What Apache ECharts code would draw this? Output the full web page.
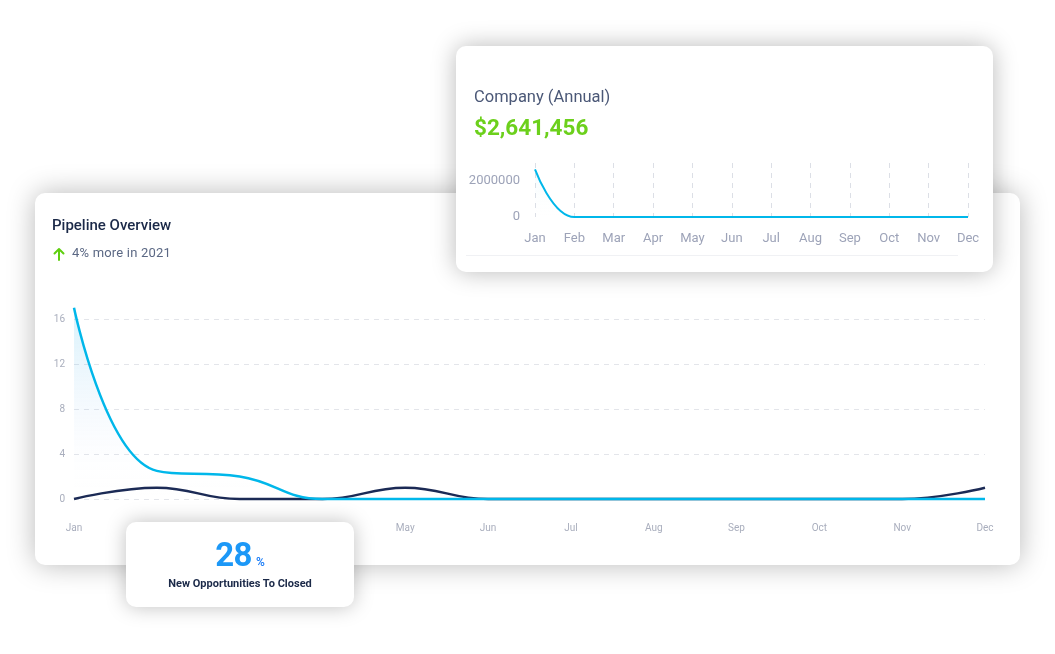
<!DOCTYPE html>
<html><head><meta charset="utf-8">
<script src="https://cdn.jsdelivr.net/npm/echarts@6/dist/echarts.min.js"></script>
<style>
html,body{margin:0;padding:0;background:#fff;width:1055px;height:654px;overflow:hidden;font-family:Roboto,"Noto Sans",sans-serif;}
.card{position:absolute;background:#fff;border-radius:10px;}
#main{left:35px;top:193px;width:985px;height:372px;box-shadow:0 0 28px rgba(0,0,0,0.28);z-index:1;}
#top{left:456px;top:46px;width:537px;height:226px;box-shadow:0 0 24px rgba(0,0,0,0.28);z-index:2;}
#small{left:126px;top:522px;width:228px;height:85px;box-shadow:0 0 20px rgba(0,0,0,0.25);z-index:3;text-align:center;}
.abs{position:absolute;}
</style></head><body>
<div id="main" class="card">
  <div id="mainChart" class="abs" style="left:0;top:0;width:985px;height:372px;"></div>
  <div class="abs" style="left:17px;top:23px;font-size:15px;font-weight:500;color:#1b2948;">Pipeline Overview</div>
  <svg class="abs" style="left:17px;top:54px;" width="14" height="14" viewBox="0 0 14 14"><path d="M7 13 V2 M2.5 6.5 L7 2 L11.5 6.5" stroke="#5fcf10" stroke-width="2" fill="none" stroke-linecap="round" stroke-linejoin="round"/></svg>
  <div class="abs" style="left:37px;top:52px;font-size:13px;color:#5b6884;letter-spacing:0.2px;">4% more in 2021</div>
</div>
<div id="top" class="card">
  <div id="topChart" class="abs" style="left:0;top:0;width:537px;height:226px;"></div>
  <div class="abs" style="left:18px;top:41px;font-size:16.5px;color:#4b5877;">Company (Annual)</div>
  <div class="abs" style="left:18px;top:68px;font-size:22.5px;font-weight:700;color:#6cd01c;">$2,641,456</div>
  <div class="abs" style="left:10px;top:209px;width:492px;height:1px;background:#f0f1f4;"></div>
</div>
<div id="small" class="card">
  <div class="abs" style="left:0;top:13px;width:228px;text-align:center;">
    <span style="font-size:33px;font-weight:700;color:#1c98f7;letter-spacing:-0.5px;">28</span><span style="font-size:12px;font-weight:600;color:#1c7df7;margin-left:4px;">%</span>
  </div>
  <div class="abs" style="left:0;top:55px;width:228px;text-align:center;font-size:11px;font-weight:700;color:#1b2948;">New Opportunities To Closed</div>
</div>
<script>
const months = ['Jan','Feb','Mar','Apr','May','Jun','Jul','Aug','Sep','Oct','Nov','Dec'];
const pipelineCyan = [17, 2.5, 2, 0, 0, 0, 0, 0, 0, 0, 0, 0];
const pipelineNavy = [0, 1, 0, 0, 1, 0, 0, 0, 0, 0, 0, 1];
const mainYTicks = [0, 4, 8, 12, 16];
const companyAnnual = [2641456, 0, 0, 0, 0, 0, 0, 0, 0, 0, 0, 0];
const companyYTicks = [0, 2000000];

const CYAN = '#00b7ea', NAVY = '#1b2a55';

const mainChart = echarts.init(document.getElementById('mainChart'));
mainChart.setOption({
  animation:false,
  grid:{left:39,right:35,top:126,bottom:66},
  xAxis:{type:'category',data:months,boundaryGap:false,
    axisLine:{show:false},axisTick:{show:false},
    axisLabel:{color:'#a9aebd',fontSize:10,margin:24,fontFamily:'Roboto'},
    splitLine:{show:false}},
  yAxis:{type:'value',min:0,max:mainYTicks[mainYTicks.length-1],interval:4,
    axisLine:{show:false},axisTick:{show:false},
    axisLabel:{color:'#a9aebd',fontSize:10,margin:9,fontFamily:'Roboto'},
    splitLine:{lineStyle:{color:'#e3e5ea',type:[5,5],width:1}}},
  series:[
    {type:'line',data:pipelineNavy,smooth:0.45,symbol:'none',clip:false,
      lineStyle:{color:NAVY,width:2.5},z:2},
    {type:'line',data:pipelineCyan,smooth:0.45,symbol:'none',clip:false,
      lineStyle:{color:CYAN,width:2.5},z:3,
      areaStyle:{color:new echarts.graphic.LinearGradient(0,0,0,1,[
        {offset:0,color:'rgba(0,170,230,0.22)'},
        {offset:0.7,color:'rgba(120,170,240,0.04)'},
        {offset:1,color:'rgba(255,255,255,0)'}])}}
  ]
});

const topChart = echarts.init(document.getElementById('topChart'));
topChart.setOption({
  animation:false,
  grid:{left:79,right:25,top:117,bottom:55},
  xAxis:{type:'category',data:months,boundaryGap:false,
    axisLine:{show:false},axisTick:{show:false},
    axisLabel:{color:'#9da3b8',fontSize:13,margin:15,fontFamily:'Roboto'},
    splitLine:{show:true,lineStyle:{color:'#dcdfe6',type:[5,5],width:1}}},
  yAxis:{type:'value',min:0,max:3000000,interval:1000000,
    axisLine:{show:false},axisTick:{show:false},
    axisLabel:{color:'#9da3b8',fontSize:13,margin:15,fontFamily:'Roboto',
      formatter:v=>companyYTicks.indexOf(v)>=0?String(v):''},
    splitLine:{show:false}},
  series:[
    {type:'line',data:companyAnnual,smooth:0.45,symbol:'none',
      lineStyle:{color:CYAN,width:2},
      areaStyle:{color:new echarts.graphic.LinearGradient(0,0,0,1,[
        {offset:0,color:'rgba(0,170,230,0.08)'},
        {offset:1,color:'rgba(255,255,255,0)'}])}}
  ]
});
</script>
</body></html>
